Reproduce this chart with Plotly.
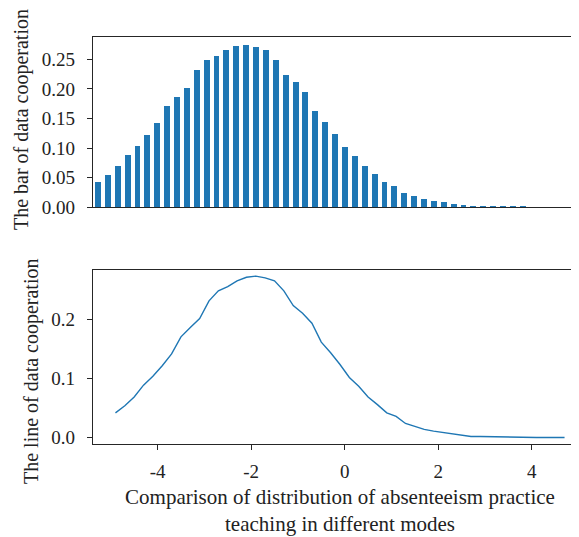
import plotly.graph_objects as go

# ---- data ----
x_vals = [round(-4.9 + 0.2 * i, 1) for i in range(49)]
bar_values = [0.042, 0.054, 0.069, 0.089, 0.104, 0.122, 0.142, 0.171, 0.187, 0.202,
              0.232, 0.249, 0.256, 0.266, 0.272, 0.274, 0.271, 0.266, 0.249, 0.224,
              0.211, 0.194, 0.162, 0.144, 0.124, 0.102, 0.087, 0.069, 0.056, 0.042,
              0.036, 0.024, 0.019, 0.014, 0.011, 0.009, 0.006, 0.004, 0.002, 0.002,
              0.0015, 0.0012, 0.0008, 0.0005, 0.0004, 0.0002, 0.0003, 0.0001, 0.0003]
line_values = list(bar_values)

top_ytick_vals = [0.00, 0.05, 0.10, 0.15, 0.20, 0.25]
bot_ytick_vals = [0.0, 0.1, 0.2]
bot_xtick_vals = [-4, -2, 0, 2, 4]
bot_xtick_text = ["-4", "-2", "0", "2", "4"]

top_ylabel = "The bar of data cooperation"
bot_ylabel = "The line of data cooperation"
xlabel = "Comparison of distribution of absenteeism practice<br>teaching in different modes"

BLUE = "#1f77b4"
AXC = "#262626"
TXT = "#222"
FONT = "Liberation Serif"
TICKFS = 19
XTITLEFS = 21
YTITLEFS = 20

fig = go.Figure()
fig.add_trace(go.Bar(x=x_vals, y=bar_values, width=0.12, marker=dict(color=BLUE, line=dict(width=0)),
                     xaxis="x", yaxis="y", showlegend=False))
fig.add_trace(go.Scatter(x=x_vals, y=line_values, mode="lines", line=dict(color=BLUE, width=1.4),
                         xaxis="x2", yaxis="y2", showlegend=False))

common_axis = dict(showgrid=False, zeroline=False, showline=True, linecolor=AXC, linewidth=1.3,
                   tickcolor=AXC, ticklen=5, tickwidth=1.3,
                   tickfont=dict(family=FONT, size=TICKFS, color=TXT))
xtitle_font = dict(family=FONT, size=XTITLEFS, color=TXT)
ytitle_font = dict(family=FONT, size=YTITLEFS, color=TXT)

fig.update_layout(
    width=579, height=537,
    margin=dict(l=85, r=0, t=29, b=101),
    paper_bgcolor="white", plot_bgcolor="white",
    font=dict(family=FONT, size=YTITLEFS, color=TXT),
    bargap=0,
    xaxis=dict(**common_axis, domain=[0, 1], anchor="y", range=[-5.0, 5.0],
               showticklabels=False, ticks="", mirror=True),
    yaxis=dict(**common_axis, domain=[0.5817, 1], anchor="x", range=[0, 0.2876],
               tickvals=top_ytick_vals, tickformat=".2f", ticks="outside", ticklabelstandoff=8),
    xaxis2=dict(**common_axis, domain=[0, 1], anchor="y2", range=[-5.38, 5.18],
                tickvals=bot_xtick_vals, ticktext=bot_xtick_text, ticks="outside", mirror=True,
                ticklabelstandoff=5,
                title=dict(text=xlabel, font=xtitle_font, standoff=8)),
    yaxis2=dict(**common_axis, domain=[0, 0.4266], anchor="x2", range=[-0.0108, 0.2837],
                tickvals=bot_ytick_vals, tickformat=".1f", ticks="outside", ticklabelstandoff=8),
    annotations=[
        dict(text=top_ylabel, xref="paper", yref="paper", x=-0.1457, y=0.796,
             textangle=-90, showarrow=False, xanchor="center", yanchor="middle", font=ytitle_font),
        dict(text=bot_ylabel, xref="paper", yref="paper", x=-0.1235, y=0.1794,
             textangle=-90, showarrow=False, xanchor="center", yanchor="middle", font=ytitle_font),
    ],
)

fig.write_html("out.html")
